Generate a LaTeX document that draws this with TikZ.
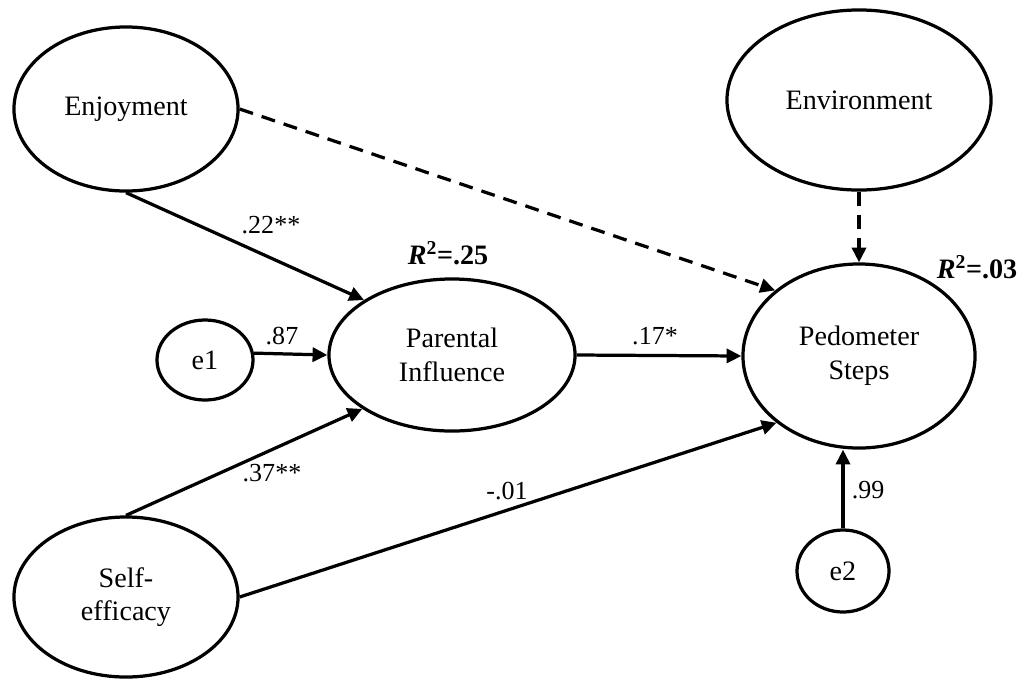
\documentclass[tikz,border=0pt]{standalone}
\usepackage{fontspec}
\setmainfont{Liberation Serif}
\usetikzlibrary{shapes.geometric,arrows.meta}
\begin{document}
\begin{tikzpicture}[x=0.025cm,y=-0.025cm,line width=2.3pt]
  \tikzstyle{latent}=[ellipse,draw,inner sep=0pt,align=center,font=\fontsize{20}{24}\selectfont]
  \tikzstyle{coef}=[inner sep=0pt,font=\fontsize{18.5}{22}\selectfont]
  \tikzstyle{rsq}=[inner sep=0pt,font=\fontsize{20}{24}\selectfont\bfseries]
  \tikzstyle{effect}=[-{Triangle[length=10.5pt,width=10pt]}]
  \tikzstyle{nseffect}=[effect,dash pattern=on 10pt off 6.5pt]
  \useasboundingbox (0,0) rectangle (1023,679);
  \node[latent,minimum width=5.6cm,minimum height=4.1cm] (enj) at (126,109) {Enjoyment};
  \node[latent,minimum width=6.6cm,minimum height=4.5cm] (env) at (859,100) {Environment};
  \node[latent,minimum width=6.15cm,minimum height=3.8cm] (par) at (452,355) {Parental\\Influence};
  \node[latent,minimum width=5.8cm,minimum height=4.6cm] (ped) at (859,356) {Pedometer\\Steps};
  \node[latent,minimum width=5.6cm,minimum height=4.0cm] (self) at (126,597) {Self-\\efficacy};
  \node[latent,minimum width=2.4cm,minimum height=2.0cm] (e1) at (205,360) {e1};
  \node[latent,minimum width=2.3cm,minimum height=2.05cm] (e2) at (843,571) {e2};
  \draw[effect] (enj.south) -- (par.148);
  \draw[effect] (e1.8) -- (par.180);
  \draw[effect] (self.north) -- (par.211);
  \draw[effect] (par.east) -- (ped.west);
  \draw[effect] (self.east) -- (ped.219);
  \draw[effect] (e2.north) -- (e2.north |- ped.south);
  \draw[nseffect] (enj.east) -- (ped.142);
  \draw[nseffect] (env.south) -- (ped.north);
  \node[coef] (l22) at (271,225) {.22**};
  \node[coef] (l87) at (282,336) {.87};
  \node[coef] (l37) at (272,473) {.37**};
  \node[coef] (l17) at (655,336) {.17*};
  \node[coef] (l01) at (507,491) {-.01};
  \node[coef] (l99) at (868,490) {.99};
  \node[rsq] (rpar) at (448,253) {\textit{R}\textsuperscript{2}=.25};
  \node[rsq] (rped) at (977,267) {\textit{R}\textsuperscript{2}=.03};
\end{tikzpicture}
\end{document}
